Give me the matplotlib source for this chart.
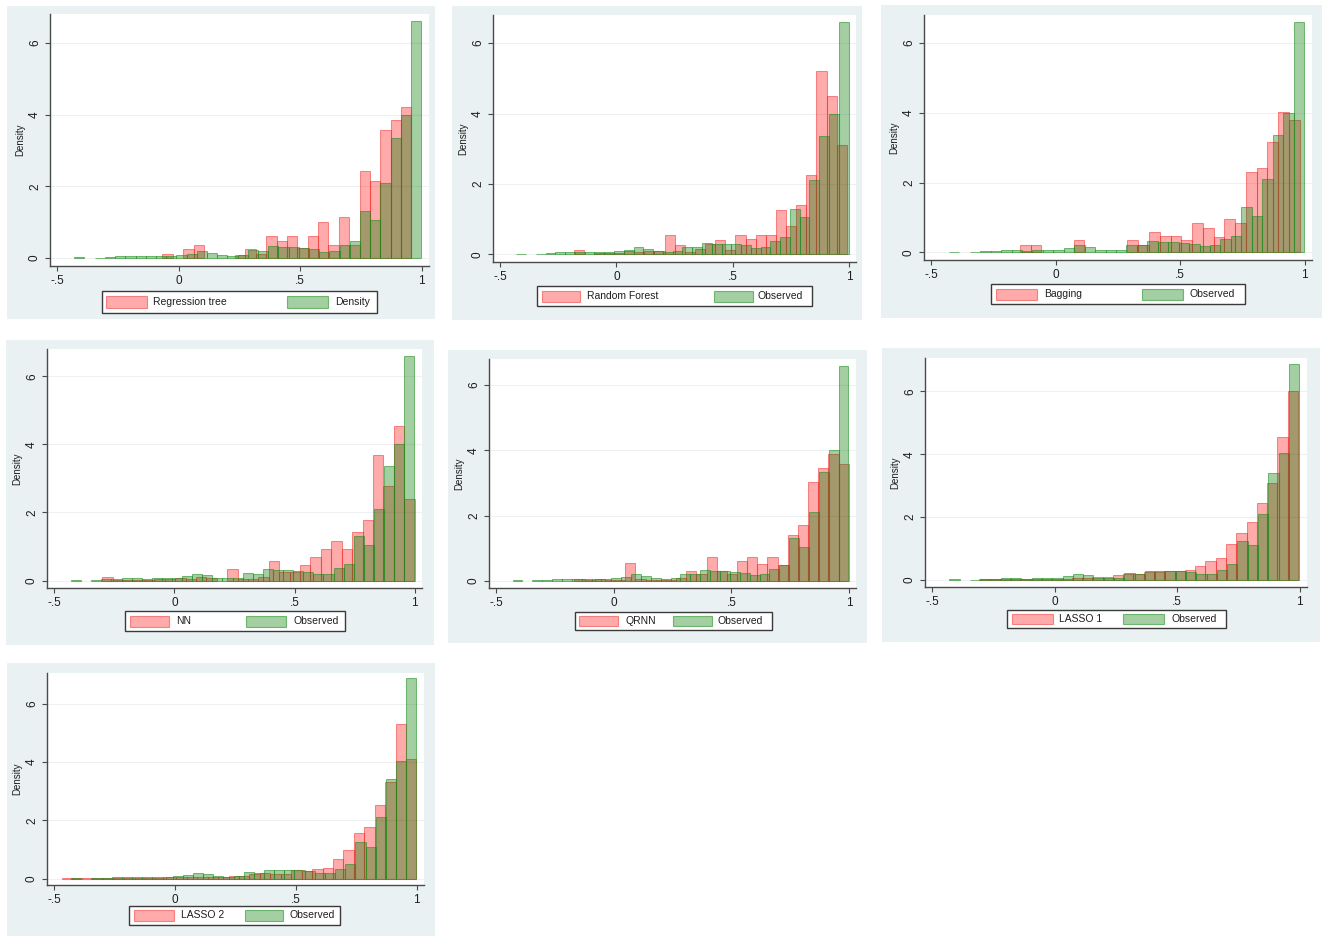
import numpy as np
import matplotlib
matplotlib.use("Agg")
import matplotlib.pyplot as plt
from matplotlib.patches import Rectangle

plt.rcParams["font.family"] = ["Liberation Sans", "DejaVu Sans"]

W, H = 1322, 936

# ---- observed outcome (density histogram, common bins) ----
obs_start, obs_width = -0.43, 0.042
observed = [0.02, 0.0, 0.01, 0.03, 0.05, 0.06, 0.07, 0.05, 0.06, 0.07,
            0.08, 0.12, 0.20, 0.15, 0.08, 0.06, 0.08, 0.22, 0.20, 0.33,
            0.30, 0.30, 0.28, 0.25, 0.18, 0.20, 0.37, 0.48, 1.30, 1.05,
            2.10, 3.35, 4.00, 6.60]
observed_lasso = [0.02, 0.0, 0.01, 0.03, 0.05, 0.06, 0.07, 0.05, 0.06, 0.07,
                  0.08, 0.12, 0.20, 0.15, 0.08, 0.06, 0.08, 0.22, 0.20, 0.30,
                  0.28, 0.30, 0.28, 0.27, 0.18, 0.20, 0.33, 0.50, 1.25, 1.10,
                  2.10, 3.40, 4.03, 6.87]

# ---- predicted outcomes by model ----
rt_start, rt_width = -0.067, 0.0427
reg_tree = [0.12, 0.0, 0.25, 0.37, 0.0, 0.0, 0.0, 0.10, 0.25, 0.12,
            0.62, 0.48, 0.62, 0.28, 0.62, 1.00, 0.37, 1.15, 0.37, 2.42,
            2.15, 3.58, 3.85, 4.22]

rf_start, rf_width = -0.184, 0.0435
rand_forest = [0.12, 0.0, 0.03, 0.03, 0.04, 0.10, 0.06, 0.10, 0.10, 0.55,
               0.25, 0.05, 0.15, 0.28, 0.40, 0.12, 0.55, 0.42, 0.55, 0.55,
               1.27, 0.80, 1.40, 2.25, 5.20, 4.50, 3.10]

bg_start, bg_width = -0.145, 0.0433
bagging = [0.22, 0.22, 0.0, 0.0, 0.0, 0.35, 0.0, 0.0, 0.0, 0.0,
           0.35, 0.22, 0.58, 0.47, 0.47, 0.35, 0.85, 0.70, 0.45, 0.95,
           0.85, 2.30, 2.42, 3.15, 4.02, 3.78]

nn_start, nn_width = -0.30, 0.0433
nn = [0.10, 0.02, 0.02, 0.01, 0.02, 0.03, 0.03, 0.08, 0.05, 0.10,
      0.07, 0.0, 0.33, 0.05, 0.05, 0.10, 0.57, 0.25, 0.25, 0.45,
      0.70, 0.93, 1.15, 0.93, 1.42, 1.77, 3.70, 2.77, 4.55, 2.40]

qr_start, qr_width = -0.167, 0.0432
qrnn = [0.07, 0.02, 0.07, 0.03, 0.04, 0.55, 0.05, 0.03, 0.02, 0.03,
        0.10, 0.30, 0.20, 0.73, 0.30, 0.20, 0.62, 0.73, 0.53, 0.73,
        0.50, 1.40, 1.72, 3.03, 3.47, 3.90, 3.57]

l1_start, l1_width = -0.309, 0.042
lasso1 = [0.02, 0.02, 0.03, 0.02, 0.03, 0.03, 0.04, 0.05, 0.05, 0.06,
          0.07, 0.09, 0.10, 0.15, 0.20, 0.20, 0.25, 0.27, 0.30, 0.30,
          0.32, 0.45, 0.60, 0.70, 1.15, 1.50, 1.85, 2.45, 3.08, 4.55,
          6.02]

l2_start, l2_width = -0.47, 0.0432
lasso2 = [0.02, 0.01, 0.02, 0.01, 0.01, 0.02, 0.02, 0.02, 0.03, 0.03,
          0.04, 0.04, 0.05, 0.05, 0.06, 0.05, 0.08, 0.10, 0.15, 0.20,
          0.17, 0.17, 0.28, 0.25, 0.33, 0.38, 0.67, 0.97, 1.55, 1.77,
          2.52, 3.30, 5.30, 4.10]

x_ticks = [-0.5, 0, 0.5, 1]
x_tick_labels = ["-.5", "0", ".5", "1"]
y_ticks = [0, 2, 4, 6]
y_tick_labels = ["0", "2", "4", "6"]

RED_FILL = (1.0, 0.0, 0.0, 0.33)
RED_EDGE = (0.95, 0.15, 0.15, 0.5)
GREEN_FILL = (0.0, 0.48, 0.0, 0.36)
GREEN_EDGE = (0.10, 0.55, 0.10, 0.55)
BG = "#EAF1F3"
AXIS_COL = "#4a4a4a"
TEXT_COL = "#1e1e1e"

# panel layout in pixels: background box, white plot region (l, t, r, b),
# legend box (l, t, r, b), red swatch x, red label x, green swatch x, green label x
panels = [
    dict(pred=reg_tree, start=rt_start, width=rt_width, obs=observed,
         lab1="Regression tree", lab2="Density", ytop=6.8,
         bg=(7, 6, 435, 319), plot=(50, 14, 429, 266),
         leg=(102, 291, 377, 313), sw1=(106, 147), tx1=153, sw2=(287, 328), tx2=335),
    dict(pred=rand_forest, start=rf_start, width=rf_width, obs=observed,
         lab1="Random Forest", lab2="Observed", ytop=6.8,
         bg=(452, 6, 862, 320), plot=(493, 15, 856, 262),
         leg=(537, 286, 812, 306), sw1=(542, 580), tx1=587, sw2=(714, 753), tx2=758),
    dict(pred=bagging, start=bg_start, width=bg_width, obs=observed,
         lab1="Bagging", lab2="Observed", ytop=6.8,
         bg=(881, 5, 1322, 318), plot=(924, 15, 1312, 260),
         leg=(991, 284, 1245, 304), sw1=(996, 1037), tx1=1044, sw2=(1142, 1183), tx2=1190),
    dict(pred=nn, start=nn_start, width=nn_width, obs=observed,
         lab1="NN", lab2="Observed", ytop=6.8,
         bg=(6, 340, 434, 645), plot=(47, 349, 422, 588),
         leg=(125, 611, 345, 631), sw1=(130, 169), tx1=176, sw2=(246, 286), tx2=293),
    dict(pred=qrnn, start=qr_start, width=qr_width, obs=observed,
         lab1="QRNN", lab2="Observed", ytop=6.8,
         bg=(448, 350, 867, 643), plot=(489, 359, 856, 588),
         leg=(575, 612, 772, 630), sw1=(579, 618), tx1=625, sw2=(673, 712), tx2=718),
    dict(pred=lasso1, start=l1_start, width=l1_width, obs=observed_lasso,
         lab1="LASSO 1", lab2="Observed", ytop=7.06,
         bg=(882, 348, 1320, 642), plot=(925, 358, 1307, 587),
         leg=(1007, 610, 1226, 628), sw1=(1012, 1053), tx1=1059, sw2=(1123, 1164), tx2=1172),
    dict(pred=lasso2, start=l2_start, width=l2_width, obs=observed_lasso,
         lab1="LASSO 2", lab2="Observed", ytop=7.05,
         bg=(7, 663, 435, 936), plot=(47, 673, 424, 885),
         leg=(129, 906, 340, 925), sw1=(134, 174), tx1=181, sw2=(245, 283), tx2=289),
]

fig = plt.figure(figsize=(W / 100, H / 100), dpi=100)
fig.patch.set_facecolor("white")

# full-figure canvas in pixel coordinates for backgrounds and legends
canvas = fig.add_axes([0, 0, 1, 1], zorder=-1)
canvas.set_xlim(0, W)
canvas.set_ylim(H, 0)
canvas.axis("off")


def draw_hist(ax, start, width, heights, fill, edge, z):
    h = np.asarray(heights, dtype=float)
    lefts = start + width * np.arange(len(h))
    lw = np.where(h > 0, 0.75, 0.0)
    ax.bar(lefts, h, width=width, align="edge", color=fill,
           edgecolor=edge, linewidth=lw, zorder=z)


for p in panels:
    bx0, by0, bx1, by1 = p["bg"]
    canvas.add_patch(Rectangle((bx0, by0), bx1 - bx0, by1 - by0,
                               facecolor=BG, edgecolor="none"))

    l, t, r, b = p["plot"]
    ax = fig.add_axes([l / W, 1 - b / H, (r - l) / W, (b - t) / H])
    ax.set_facecolor("white")
    ax.set_xlim(-0.53, 1.03)
    ax.set_ylim(-0.22, p["ytop"])

    for yv in y_ticks:
        ax.axhline(yv, color="#edf1f1", linewidth=0.8, zorder=0)

    draw_hist(ax, p["start"], p["width"], p["pred"], RED_FILL, RED_EDGE, 2)
    draw_hist(ax, obs_start, obs_width, p["obs"], GREEN_FILL, GREEN_EDGE, 3)

    for side in ("top", "right"):
        ax.spines[side].set_visible(False)
    for side in ("left", "bottom"):
        ax.spines[side].set_color(AXIS_COL)
        ax.spines[side].set_linewidth(1.0)

    ax.set_xticks(x_ticks)
    ax.set_xticklabels(x_tick_labels, fontsize=8.5)
    ax.set_yticks(y_ticks)
    ax.set_yticklabels(y_tick_labels, fontsize=8.5, rotation=90, va="center")
    ax.tick_params(axis="both", direction="out", length=3.5, width=0.8,
                   color=AXIS_COL, labelcolor=TEXT_COL, pad=3)
    ax.set_ylabel("Density", fontsize=7, color=TEXT_COL, labelpad=3)

    # legend box
    lx0, ly0, lx1, ly1 = p["leg"]
    canvas.add_patch(Rectangle((lx0, ly0), lx1 - lx0, ly1 - ly0,
                               facecolor="white", edgecolor="#3a3a3a", linewidth=1.0))
    sh = (ly1 - ly0) * 0.55
    sy = (ly0 + ly1) / 2 - sh / 2
    canvas.add_patch(Rectangle((p["sw1"][0], sy), p["sw1"][1] - p["sw1"][0], sh,
                               facecolor=RED_FILL, edgecolor=RED_EDGE, linewidth=0.8))
    canvas.add_patch(Rectangle((p["sw2"][0], sy), p["sw2"][1] - p["sw2"][0], sh,
                               facecolor=GREEN_FILL, edgecolor=GREEN_EDGE, linewidth=0.8))
    cy = (ly0 + ly1) / 2
    canvas.text(p["tx1"], cy, p["lab1"], fontsize=7.5, va="center", ha="left", color=TEXT_COL)
    canvas.text(p["tx2"], cy, p["lab2"], fontsize=7.5, va="center", ha="left", color=TEXT_COL)

fig.savefig("out.png", dpi=100, facecolor="white")
